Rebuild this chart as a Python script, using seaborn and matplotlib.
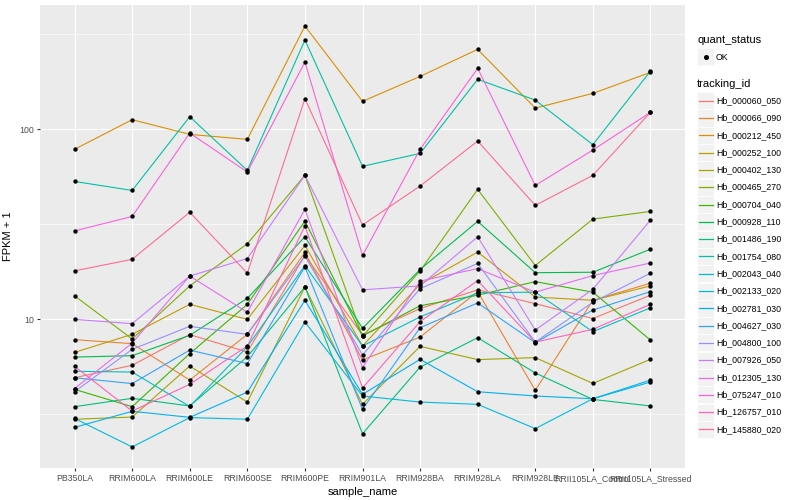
import numpy as np
import pandas as pd
import matplotlib
matplotlib.use("Agg")
import matplotlib.pyplot as plt
from matplotlib.lines import Line2D
from matplotlib.patches import Rectangle
from matplotlib.ticker import FixedLocator, NullFormatter
import seaborn as sns

# samples on the x axis, in plot order
samples = ["PB350LA", "RRIM600LA", "RRIM600LE", "RRIM600SE", "RRIM600PE", "RRIM901LA",
           "RRIM928BA", "RRIM928LA", "RRIM928LE", "RRII105LA_Control", "RRII105LA_Stressed"]

# FPKM + 1 for each gene, one value per sample
hb_000060_050 = [4.93, 5.73, 8.31, 6.73, 21.7, 8.27, 11.4, 14.3, 12.1, 10.1, 13.4]
hb_000066_090 = [7.82, 7.45, 4.79, 8.34, 22.5, 6.11, 8.07, 14.0, 4.23, 12.6, 15.5]
hb_000212_450 = [78.5, 112.5, 94.1, 88.6, 349.8, 140.4, 190.0, 263.7, 129.4, 154.7, 199.5]
hb_000252_100 = [6.70, 8.34, 12.0, 10.0, 24.5, 7.24, 15.3, 22.6, 13.1, 12.6, 15.0]
hb_000402_130 = [2.98, 3.06, 5.68, 3.67, 14.8, 3.57, 7.21, 6.14, 6.29, 4.60, 6.16]
hb_000465_270 = [13.3, 7.88, 15.0, 25.0, 57.3, 8.14, 18.0, 48.3, 19.2, 33.7, 37.0]
hb_000704_040 = [4.28, 3.47, 6.60, 12.0, 32.9, 8.17, 11.8, 13.4, 15.8, 13.9, 7.78]
hb_000928_110 = [6.33, 6.44, 8.24, 12.9, 27.2, 8.97, 18.3, 32.8, 17.6, 17.7, 23.4]
hb_001486_190 = [3.47, 3.84, 3.50, 6.36, 14.8, 2.50, 5.61, 8.01, 5.22, 3.79, 3.50]
hb_001754_080 = [53.2, 47.7, 116.6, 60.8, 295.1, 63.9, 74.7, 183.3, 142.6, 83.1, 202.7]
hb_002043_040 = [5.33, 5.28, 3.48, 7.18, 19.2, 7.24, 10.3, 13.8, 13.9, 8.61, 11.5]
hb_002133_020 = [3.01, 2.13, 3.04, 2.98, 9.68, 3.95, 3.67, 3.57, 2.66, 3.82, 4.79]
hb_002781_030 = [2.70, 3.28, 3.05, 4.14, 12.6, 4.03, 6.16, 4.16, 3.95, 3.82, 4.68]
hb_004627_030 = [4.93, 4.59, 6.89, 5.85, 18.9, 3.36, 9.04, 12.2, 7.54, 11.2, 14.0]
hb_004800_100 = [4.16, 6.95, 9.19, 8.34, 21.5, 6.49, 14.5, 19.7, 7.59, 12.3, 17.5]
hb_007926_050 = [10.0, 9.49, 16.9, 20.9, 57.3, 14.3, 15.0, 27.2, 8.78, 14.4, 33.3]
hb_012305_130 = [4.32, 7.50, 16.9, 10.9, 37.9, 5.57, 15.9, 18.5, 13.9, 17.0, 19.8]
hb_075247_010 = [29.2, 34.8, 95.6, 59.6, 226.1, 21.7, 78.5, 209.5, 50.7, 77.8, 122.9]
hb_126757_010 = [5.66, 3.29, 4.55, 7.24, 31.0, 4.35, 9.72, 16.0, 7.59, 8.86, 12.0]
hb_145880_020 = [18.0, 20.7, 36.6, 17.5, 145.0, 31.4, 50.3, 86.8, 39.8, 57.3, 122.9]

genes = {
    "Hb_000060_050": hb_000060_050, "Hb_000066_090": hb_000066_090,
    "Hb_000212_450": hb_000212_450, "Hb_000252_100": hb_000252_100,
    "Hb_000402_130": hb_000402_130, "Hb_000465_270": hb_000465_270,
    "Hb_000704_040": hb_000704_040, "Hb_000928_110": hb_000928_110,
    "Hb_001486_190": hb_001486_190, "Hb_001754_080": hb_001754_080,
    "Hb_002043_040": hb_002043_040, "Hb_002133_020": hb_002133_020,
    "Hb_002781_030": hb_002781_030, "Hb_004627_030": hb_004627_030,
    "Hb_004800_100": hb_004800_100, "Hb_007926_050": hb_007926_050,
    "Hb_012305_130": hb_012305_130, "Hb_075247_010": hb_075247_010,
    "Hb_126757_010": hb_126757_010, "Hb_145880_020": hb_145880_020,
}
tracking_ids = list(genes.keys())

# ggplot2 default hue palette for 20 levels
palette = ["#F8766D", "#EA8331", "#D89000", "#C09B00", "#A3A500", "#7CAE00", "#39B600",
           "#00BB4E", "#00BF7D", "#00C1A3", "#00BFC4", "#00BAE0", "#00B0F6", "#35A2FF",
           "#9590FF", "#C77CFF", "#E76BF3", "#FA62DB", "#FF62BC", "#FF6C90"]

rows = []
for gid, vals in genes.items():
    for s, v in zip(samples, vals):
        rows.append({"tracking_id": gid, "sample_name": s, "fpkm": v, "quant_status": "OK"})
df = pd.DataFrame(rows)

plt.rcParams["font.family"] = ["Liberation Sans", "DejaVu Sans"]

W, H = 800, 500
fig = plt.figure(figsize=(8, 5), dpi=100)
ax = fig.add_axes([40 / W, 1 - 468 / H, 645 / W, 463 / H])
ax.set_facecolor("#EBEBEB")

sns.lineplot(data=df, x="sample_name", y="fpkm", hue="tracking_id", hue_order=tracking_ids,
             palette=palette, sort=False, estimator=None, linewidth=0.8, legend=False, ax=ax)
sns.scatterplot(data=df, x="sample_name", y="fpkm", color="black", s=10, linewidth=0,
                legend=False, ax=ax, zorder=3)

ax.set_yscale("log")
lo, hi = np.log10(df["fpkm"].min()), np.log10(df["fpkm"].max())
pad = 0.05 * (hi - lo)
ax.set_ylim(10 ** (lo - pad), 10 ** (hi + pad))
ax.set_xlim(-0.6, len(samples) - 0.4)

ax.yaxis.set_major_locator(FixedLocator([10, 100]))
ax.yaxis.set_minor_locator(FixedLocator([10 ** 0.5, 10 ** 1.5, 10 ** 2.5]))
ax.yaxis.set_minor_formatter(NullFormatter())
ax.set_yticklabels(["10", "100"])
ax.set_xticks(range(len(samples)))
ax.set_xticklabels(samples)

ax.grid(which="major", color="white", linewidth=0.8)
ax.grid(which="minor", axis="y", color="white", linewidth=0.4)
ax.set_axisbelow(True)
for sp in ax.spines.values():
    sp.set_visible(False)
ax.tick_params(which="major", length=2.5, width=0.8, color="#333333",
               labelsize=6.3, labelcolor="#4D4D4D", pad=2)
ax.tick_params(which="minor", length=0)

ax.set_xlabel("sample_name", fontsize=8, labelpad=3)
ax.set_ylabel("FPKM + 1", fontsize=8, labelpad=4)

# legends drawn ggplot-style on the right
def fx(px):
    return px / W

def fy(py):
    return 1 - py / H

key = 17
fig.text(fx(697), fy(40), "quant_status", fontsize=8, va="center", ha="left")
fig.add_artist(Rectangle((fx(697), fy(48 + key)), key / W, key / H, facecolor="#F2F2F2",
                         edgecolor="white", linewidth=0.5, transform=fig.transFigure))
fig.add_artist(Line2D([fx(705.5)], [fy(56.5)], marker="o", color="black", markersize=2.6,
                      linestyle="none", transform=fig.transFigure))
fig.text(fx(716), fy(57), "OK", fontsize=6.3, va="center", ha="left")

fig.text(fx(697), fy(84), "tracking_id", fontsize=8, va="center", ha="left")
for i, (gid, col) in enumerate(zip(tracking_ids, palette)):
    cy = 100.7 + i * 17.3
    fig.add_artist(Rectangle((fx(697), fy(cy + key / 2)), key / W, key / H,
                             facecolor="#F2F2F2", edgecolor="white", linewidth=0.5,
                             transform=fig.transFigure))
    fig.add_artist(Line2D([fx(698.5), fx(712.5)], [fy(cy), fy(cy)], color=col,
                          linewidth=0.9, transform=fig.transFigure))
    fig.text(fx(716), fy(cy), gid, fontsize=6.3, va="center", ha="left")

fig.savefig("out.png", dpi=100)
